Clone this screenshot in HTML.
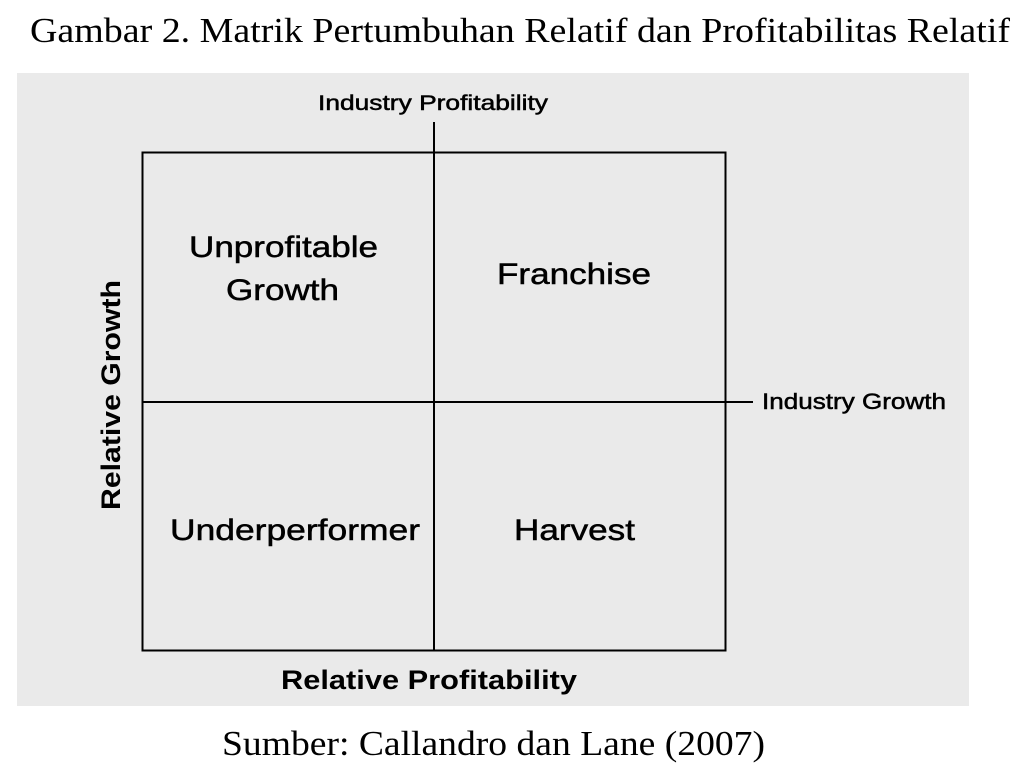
<!DOCTYPE html>
<html><head><style>
html,body{margin:0;padding:0;background:#fff;width:1024px;height:778px;overflow:hidden}
</style></head><body>
<svg width="1024" height="778" xmlns="http://www.w3.org/2000/svg">
<text x="30" y="42" textLength="980" lengthAdjust="spacingAndGlyphs" font-family="Liberation Serif, serif" font-size="35" fill="#000">Gambar 2.  Matrik Pertumbuhan Relatif dan Profitabilitas Relatif</text>
<rect x="17" y="73" width="952" height="633" fill="#eaeaea"/>
<rect x="142.5" y="152.5" width="583" height="498" fill="none" stroke="#000" stroke-width="2"/>
<line x1="434" y1="122" x2="434" y2="651" stroke="#000" stroke-width="2"/>
<line x1="142" y1="402" x2="753" y2="402" stroke="#000" stroke-width="2"/>
<g font-family="Liberation Sans, sans-serif" fill="#000" stroke="#000" stroke-width="0.5" lengthAdjust="spacingAndGlyphs">
<text x="318" y="110" textLength="230" lengthAdjust="spacingAndGlyphs" font-size="21">Industry Profitability</text>
<text x="762" y="409" textLength="184" lengthAdjust="spacingAndGlyphs" font-size="22">Industry Growth</text>
<text x="189" y="257" textLength="189" lengthAdjust="spacingAndGlyphs" font-size="30">Unprofitable</text>
<text x="226" y="300" textLength="113" lengthAdjust="spacingAndGlyphs" font-size="30">Growth</text>
<text x="497" y="284" textLength="154" lengthAdjust="spacingAndGlyphs" font-size="30">Franchise</text>
<text x="170" y="540" textLength="250" lengthAdjust="spacingAndGlyphs" font-size="30">Underperformer</text>
<text x="514" y="540" textLength="121" lengthAdjust="spacingAndGlyphs" font-size="30">Harvest</text>
</g>
<g font-family="Liberation Sans, sans-serif" fill="#000" font-weight="bold">
<text x="281" y="689" textLength="296" lengthAdjust="spacingAndGlyphs" font-size="27">Relative Profitability</text>
<text transform="translate(120,510) rotate(-90)" textLength="230" lengthAdjust="spacingAndGlyphs" font-size="27">Relative Growth</text>
</g>
<text x="222" y="755" textLength="543" lengthAdjust="spacingAndGlyphs" font-family="Liberation Serif, serif" font-size="35" fill="#000">Sumber: Callandro dan Lane (2007)</text>
</svg>
</body></html>
